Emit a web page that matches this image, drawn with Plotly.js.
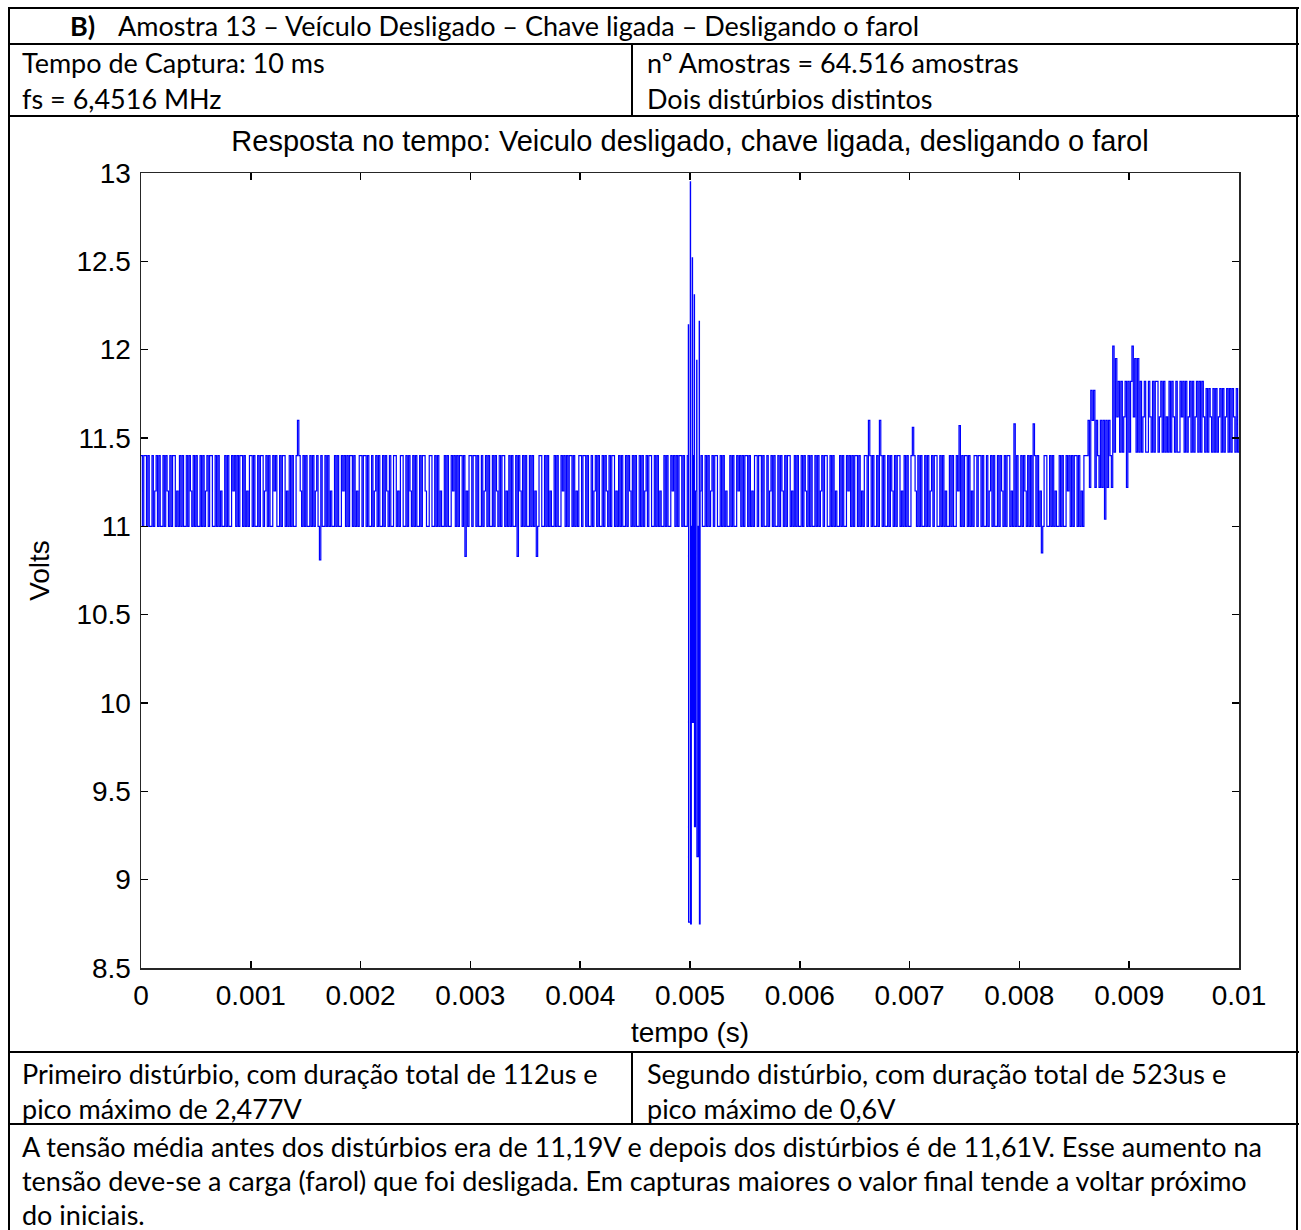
<!DOCTYPE html>
<html><head><meta charset="utf-8">
<script src="https://cdn.plot.ly/plotly-3.0.1.min.js"></script>
<style>
html,body{margin:0;padding:0;background:#fff;width:1301px;height:1230px;overflow:hidden;}
.ln{position:absolute;background:#000;z-index:5;}
.tx{position:absolute;font-family:Lato,'Noto Sans',sans-serif;font-size:27px;color:#000;white-space:nowrap;line-height:36px;z-index:6;}
#chart{position:absolute;left:0;top:117px;width:1301px;height:934px;z-index:1;}
</style></head><body>
<!-- table borders -->
<div class="ln" style="left:8px;top:7px;width:1291px;height:2px"></div>
<div class="ln" style="left:8px;top:43px;width:1291px;height:2px"></div>
<div class="ln" style="left:8px;top:115px;width:1291px;height:2px"></div>
<div class="ln" style="left:8px;top:1051px;width:1291px;height:2px"></div>
<div class="ln" style="left:8px;top:1123px;width:1291px;height:2px"></div>
<div class="ln" style="left:8px;top:7px;width:2px;height:1230px"></div>
<div class="ln" style="left:1296px;top:7px;width:2px;height:1230px"></div>
<div class="ln" style="left:631px;top:43px;width:2px;height:73px"></div>
<div class="ln" style="left:631px;top:1051px;width:2px;height:73px"></div>

<div class="tx" style="left:70px;top:8px;font-weight:bold">B)</div>
<div class="tx" style="left:118px;top:8px">Amostra 13 – Veículo Desligado – Chave ligada – Desligando o farol</div>
<div class="tx" style="left:22px;top:45px">Tempo de Captura: 10 ms<br>fs = 6,4516 MHz</div>
<div class="tx" style="left:647px;top:45px">nº Amostras = 64.516 amostras<br>Dois distúrbios distintos</div>
<div class="tx" style="left:22px;top:1056px;line-height:35px">Primeiro distúrbio, com duração total de 112us e<br>pico máximo de 2,477V</div>
<div class="tx" style="left:647px;top:1056px;line-height:35px">Segundo distúrbio, com duração total de 523us e<br>pico máximo de 0,6V</div>
<div class="tx" style="left:22px;top:1130px;line-height:34px">A tensão média antes dos distúrbios era de 11,19V e depois dos distúrbios é de 11,61V. Esse aumento na<br>tensão deve-se a carga (farol) que foi desligada. Em capturas maiores o valor final tende a voltar próximo<br>do iniciais.</div>

<div id="chart"></div>
<script>
// display sampling step (s) of the dense segments
const sampleStep = 12.5e-6;

// segment 1: before the first disturbance (starts at 0 s)
const band1Start = 0;
const band1V = [
11.4,11.0,11.4,11.4,11.0,11.4,11.0,11.0,11.4,11.0,11.2,11.4,11.0,11.4,11.0,11.0,11.4,11.0,11.4,11.2,
11.0,11.4,11.0,11.4,11.4,11.0,11.2,11.0,11.4,11.0,11.4,11.0,11.0,11.4,11.0,11.4,11.2,11.0,11.4,11.0,
11.4,11.0,11.0,11.4,11.0,11.4,11.0,11.2,11.4,11.0,11.4,11.4,11.0,11.0,11.4,11.0,11.4,11.0,11.2,11.0,
11.0,11.4,11.0,11.4,11.0,11.0,11.4,11.2,11.4,11.0,11.4,11.0,11.4,11.4,11.0,11.4,11.0,11.2,11.0,11.4,
11.4,11.0,11.4,11.0,11.0,11.4,11.0,11.4,11.4,11.0,11.2,11.4,11.0,11.4,11.0,11.0,11.4,11.2,11.4,11.0,
11.0,11.4,11.0,11.4,11.4,11.0,11.2,11.0,11.4,11.0,11.4,11.0,11.0,11.4,11.6,11.4,11.2,11.0,11.4,11.0,
11.4,11.0,11.0,11.4,11.0,11.4,11.0,11.2,11.4,11.0,10.81,11.4,11.0,11.0,11.4,11.0,11.4,11.0,11.2,11.0,
11.0,11.4,11.0,11.4,11.0,11.0,11.4,11.2,11.4,11.0,11.4,11.0,11.4,11.4,11.0,11.4,11.0,11.2,11.0,11.4,
11.4,11.0,11.4,11.4,11.0,11.4,11.0,11.0,11.4,11.0,11.2,11.4,11.0,11.4,11.0,11.0,11.4,11.0,11.4,11.2,
11.0,11.4,11.0,11.0,11.4,11.4,11.0,11.2,11.0,11.4,11.4,11.0,11.0,11.4,11.0,11.4,11.2,11.0,11.4,11.0,
11.4,11.0,11.0,11.4,11.0,11.4,11.4,11.2,11.0,11.0,11.4,11.4,11.0,11.0,11.4,11.0,11.4,11.0,11.2,11.0,
11.0,11.4,11.0,11.4,11.0,11.0,11.4,11.2,11.4,11.0,11.4,11.0,11.4,11.4,11.0,11.4,10.83,11.2,11.0,11.4,
11.4,11.0,11.4,11.4,11.0,11.4,11.0,11.0,11.4,11.0,11.2,11.4,11.0,11.4,11.0,11.0,11.4,11.0,11.4,11.2,
11.0,11.4,11.0,11.4,11.4,11.0,11.2,11.0,11.4,11.0,11.4,11.0,11.0,11.4,10.83,11.4,11.2,11.0,11.4,11.0,
11.4,11.0,11.0,11.4,11.0,11.4,11.0,11.2,10.83,11.0,11.4,11.4,11.0,11.0,11.4,11.0,11.4,11.0,11.2,11.0,
11.0,11.4,11.0,11.4,11.0,11.0,11.4,11.2,11.4,11.0,11.4,11.0,11.4,11.4,11.0,11.4,11.0,11.2,11.0,11.4,
11.4,11.0,11.4,11.4,11.0,11.4,11.0,11.0,11.4,11.0,11.2,11.4,11.0,11.4,11.0,11.0,11.4,11.0,11.4,11.2,
11.0,11.4,11.0,11.4,11.4,11.0,11.2,11.0,11.4,11.0,11.4,11.0,11.0,11.4,11.0,11.4,11.2,11.0,11.4,11.0,
11.4,11.0,11.0,11.4,11.0,11.4,11.0,11.2,11.4,11.0,11.4,11.4,11.0,11.0,11.4,11.0,11.4,11.0,11.2,11.0,
11.0,11.4,11.0,11.4,11.0,11.0,11.4,11.2,11.4,11.0,11.4,11.0,11.4,11.4,11.0,11.4,11.0
];

// first disturbance (explicit times, s)
const distT = [0.004965,0.004975,0.004985,0.004987,0.005003,0.005005,0.005012,0.005021,0.005023,
               0.005030,0.005039,0.005041,0.005050,0.005061,0.005063,0.005075,0.005084,0.005086,0.005092];
const distV = [11.0,11.4,12.14,8.76,12.95,8.75,11.0,12.52,9.89,
               11.4,12.31,9.30,11.2,11.94,9.13,11.0,12.16,8.75,11.2];

// segment 2: after the first disturbance
const band2Start = 0.0051;
const band2V = [
11.4,11.0,11.0,11.4,11.0,11.4,11.0,11.2,11.4,11.0,11.4,11.4,11.0,11.0,11.4,11.0,11.4,11.0,11.2,11.0,
11.0,11.4,11.0,11.4,11.0,11.0,11.4,11.2,11.4,11.0,11.4,11.0,11.4,11.4,11.0,11.4,11.0,11.2,11.0,11.4,
11.4,11.0,11.4,11.4,11.0,11.4,11.0,11.0,11.4,11.0,11.2,11.4,11.0,11.4,11.0,11.0,11.4,11.0,11.4,11.2,
11.0,11.4,11.0,11.4,11.4,11.0,11.2,11.0,11.4,11.0,11.4,11.0,11.0,11.4,11.0,11.4,11.2,11.0,11.4,11.0,
11.4,11.0,11.0,11.4,11.0,11.4,11.0,11.2,11.4,11.0,11.4,11.4,11.0,11.0,11.4,11.0,11.4,11.0,11.2,11.0,
11.0,11.4,11.0,11.4,11.0,11.0,11.4,11.2,11.4,11.0,11.4,11.0,11.4,11.4,11.0,11.4,11.0,11.2,11.0,11.4,
11.4,11.0,11.6,11.4,11.0,11.4,11.0,11.0,11.4,11.0,11.6,11.4,11.0,11.4,11.0,11.0,11.4,11.0,11.4,11.2,
11.0,11.4,11.0,11.4,11.4,11.0,11.2,11.0,11.4,11.0,11.4,11.0,11.0,11.4,11.56,11.4,11.2,11.0,11.4,11.0,
11.4,11.0,11.0,11.4,11.0,11.4,11.0,11.2,11.4,11.0,11.4,11.4,11.0,11.0,11.4,11.0,11.4,11.0,11.2,11.0,
11.0,11.4,11.0,11.4,11.0,11.0,11.4,11.2,11.57,11.0,11.4,11.0,11.4,11.4,11.0,11.4,11.0,11.2,11.0,11.4,
11.4,11.0,11.4,11.4,11.0,11.4,11.0,11.0,11.4,11.0,11.2,11.4,11.0,11.4,11.0,11.0,11.4,11.0,11.4,11.2,
11.0,11.4,11.0,11.4,11.4,11.0,11.2,11.0,11.58,11.0,11.4,11.0,11.0,11.4,11.0,11.4,11.2,11.0,11.4,11.0,
11.4,11.0,11.58,11.4,11.0,11.4,11.0,11.2,10.85,11.0,11.4,11.4,11.0,11.0,11.4,11.0,11.4,11.0,11.2,11.0,
11.0,11.4,11.0,11.4,11.0,11.0,11.4,11.2,11.4,11.0,11.4,11.0,11.4,11.4,11.0,11.4,11.0,11.2,11.0,11.4,
11.4
];

// second disturbance: first step
const step1Start = 0.008625;
const step1V = [11.6,11.22,11.77,11.6,11.77,11.22,11.6,11.4,11.22,11.6,11.22,11.6,11.04,11.6,11.22,11.6,11.4,11.22];

// second disturbance: final level
const step2Start = 0.00885;
const step2V = [
12.02,11.42,11.95,11.62,11.82,11.42,11.82,11.42,11.62,11.82,11.22,11.82,11.42,11.82,12.02,11.62,11.95,11.42,11.95,11.42,
11.82,11.42,11.62,11.82,11.42,11.42,11.82,11.62,11.42,11.82,11.42,11.82,11.82,11.42,11.62,11.82,11.42,11.82,11.42,11.62,
11.42,11.82,11.42,11.82,11.62,11.42,11.82,11.42,11.42,11.82,11.62,11.82,11.42,11.82,11.42,11.62,11.82,11.42,11.82,11.42,
11.62,11.82,11.42,11.82,11.42,11.82,11.62,11.42,11.78,11.42,11.78,11.62,11.42,11.78,11.42,11.78,11.42,11.62,11.78,11.42,
11.78,11.42,11.62,11.78,11.42,11.78,11.42,11.78,11.62,11.42,11.78,11.42,11.5
];

const titleText = 'Resposta no tempo: Veiculo desligado, chave ligada, desligando o farol';
const xTitle = 'tempo (s)';
const yTitle = 'Volts';

// assemble the single time series
const t = [], v = [];
function addUniform(start, vals){ vals.forEach((val,i)=>{ t.push(start + i*sampleStep); v.push(val); }); }
addUniform(band1Start, band1V);
distT.forEach((tt,i)=>{ t.push(tt); v.push(distV[i]); });
addUniform(band2Start, band2V);
addUniform(step1Start, step1V);
addUniform(step2Start, step2V);

const trace = {x:t, y:v, type:'scatter', mode:'lines', line:{color:'#0000ff', width:1.2, shape:'hv'}, hoverinfo:'skip'};

const axBase = {ticks:'inside', ticklen:7, tickwidth:1.5, tickcolor:'#000', showline:true, linecolor:'#262626',
  linewidth:1.5, mirror:'ticks', showgrid:false, zeroline:false, fixedrange:true};

const layout = {
  width:1301, height:934,
  margin:{l:141, r:62, t:56, b:83},
  paper_bgcolor:'rgba(0,0,0,0)', plot_bgcolor:'#ffffff',
  font:{family:'"Liberation Sans", Arial, sans-serif', size:28, color:'#000'},
  title:{text:titleText, font:{size:29, color:'#000'}, x:0.5, xref:'paper', xanchor:'center', y:1, yref:'paper', yanchor:'bottom', pad:{b:22}},
  showlegend:false,
  xaxis:Object.assign({}, axBase, {range:[0,0.01], tick0:0, dtick:0.001, tickformat:'.3~f', ticklabelstandoff:2,
     title:{text:xTitle, standoff:12, font:{size:28}}}),
  yaxis:Object.assign({}, axBase, {range:[8.5,13], tick0:8.5, dtick:0.5, ticklabelstandoff:3,
     title:{text:yTitle, standoff:18, font:{size:28}}})
};
Plotly.newPlot('chart', [trace], layout, {staticPlot:true, displayModeBar:false});
</script>
</body></html>
